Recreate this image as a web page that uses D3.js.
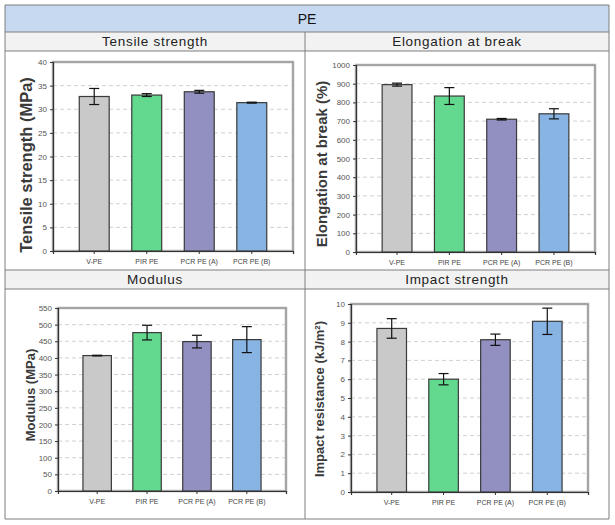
<!DOCTYPE html>
<html><head><meta charset="utf-8">
<script src="https://cdn.jsdelivr.net/npm/d3@7"></script>
<style>body{margin:0;background:#fff;font-family:"Liberation Sans",Arial,sans-serif}</style>
</head><body><svg id="c" width="615" height="525"></svg>
<script>
const categories = ["V-PE", "PIR PE", "PCR PE (A)", "PCR PE (B)"];
const barColors = ["#c9c9c9", "#63d98f", "#9190c1", "#87b4e3"];

const tensileValues = [32.7, 33.0, 33.7, 31.4];
const tensileErrors = [1.7, 0.3, 0.3, 0.1];
const tensileTicks = [0, 5, 10, 15, 20, 25, 30, 35, 40];

const elongationValues = [895, 834, 710, 739];
const elongationErrors = [8, 45, 4, 27];
const elongationTicks = [0, 100, 200, 300, 400, 500, 600, 700, 800, 900, 1000];

const modulusValues = [407, 476, 449, 455];
const modulusErrors = [1, 22, 19, 39];
const modulusTicks = [0, 50, 100, 150, 200, 250, 300, 350, 400, 450, 500, 550];

const impactValues = [8.7, 6.0, 8.1, 9.08];
const impactErrors = [0.52, 0.3, 0.3, 0.7];
const impactTicks = [0, 1, 2, 3, 4, 5, 6, 7, 8, 9, 10];

const headerTitle = "PE";
const panelTitles = ["Tensile strength", "Elongation at break", "Modulus", "Impact strength"];
const yLabels = ["Tensile strength (MPa)", "Elongation at break (%)", "Modulus (MPa)", "Impact resistance (kJ/m²)"];

const svg = d3.select("#c");

// table layout
const T = {x0: 5, x1: 609, xm: 305, y0: 5, yh: 32, yt1: 51, yr2: 270, yt2: 289, y1: 519};
svg.append("rect").attr("x", T.x0).attr("y", T.y0).attr("width", T.x1 - T.x0).attr("height", T.yh - T.y0).attr("fill", "#c6d9f0");
svg.append("rect").attr("x", T.x0).attr("y", T.yh).attr("width", T.x1 - T.x0).attr("height", T.yt1 - T.yh).attr("fill", "#f2f2f2");
svg.append("rect").attr("x", T.x0).attr("y", T.yr2).attr("width", T.x1 - T.x0).attr("height", T.yt2 - T.yr2).attr("fill", "#f2f2f2");
const lines = [
  [T.x0, T.y0, T.x1, T.y0], [T.x0, T.y1, T.x1, T.y1], [T.x0, T.y0, T.x0, T.y1], [T.x1, T.y0, T.x1, T.y1],
  [T.x0, T.yh, T.x1, T.yh], [T.x0, T.yt1, T.x1, T.yt1], [T.x0, T.yr2, T.x1, T.yr2], [T.x0, T.yt2, T.x1, T.yt2],
  [T.xm, T.yh, T.xm, T.y1]
];
svg.selectAll("line.tbl").data(lines).enter().append("line")
  .attr("x1", d => d[0]).attr("y1", d => d[1]).attr("x2", d => d[2]).attr("y2", d => d[3])
  .attr("stroke", "#7f7f7f").attr("stroke-width", 1);
svg.append("text").attr("x", (T.x0 + T.x1) / 2).attr("y", (T.y0 + T.yh) / 2 + 5).attr("text-anchor", "middle")
  .attr("font-size", 14).attr("fill", "#111").text(headerTitle);
const titlePos = [[(T.x0 + T.xm) / 2, T.yt1], [(T.xm + T.x1) / 2, T.yt1], [(T.x0 + T.xm) / 2, T.yt2], [(T.xm + T.x1) / 2, T.yt2]];
panelTitles.forEach((t, i) => {
  svg.append("text").attr("x", titlePos[i][0]).attr("y", titlePos[i][1] - 5).attr("text-anchor", "middle")
    .attr("font-size", 13.5).attr("fill", "#222").attr("letter-spacing", 0.7).text(t);
});

const panels = [
  {vals: tensileValues, errs: tensileErrors, ticks: tensileTicks, ylabel: yLabels[0], r: {x0: 53, x1: 293, y0: 62, y1: 251}, lx: 26, ly: 165, fs: 16.5},
  {vals: elongationValues, errs: elongationErrors, ticks: elongationTicks, ylabel: yLabels[1], r: {x0: 356, x1: 595, y0: 65, y1: 252}, lx: 322, ly: 164, fs: 15},
  {vals: modulusValues, errs: modulusErrors, ticks: modulusTicks, ylabel: yLabels[2], r: {x0: 58, x1: 286, y0: 308, y1: 491}, lx: 30, ly: 395, fs: 13},
  {vals: impactValues, errs: impactErrors, ticks: impactTicks, ylabel: yLabels[3], r: {x0: 351, x1: 588, y0: 304, y1: 492}, lx: 319, ly: 399, fs: 13}
];

panels.forEach((p, pi) => {
  const r = p.r;
  const g = svg.append("g");
  const x = d3.scaleBand().domain(categories).range([r.x0, r.x1]).paddingInner(0.43).paddingOuter(0.5);
  const y = d3.scaleLinear().domain([p.ticks[0], p.ticks[p.ticks.length - 1]]).range([r.y1, r.y0]);

  // gridlines
  g.selectAll("line.grid").data(p.ticks.slice(1, -1)).enter().append("line")
    .attr("x1", r.x0).attr("x2", r.x1).attr("y1", d => y(d)).attr("y2", d => y(d))
    .attr("stroke", "#d0d0d0").attr("stroke-width", 1).attr("stroke-dasharray", "4,3");

  // frame
  g.append("rect").attr("x", r.x0).attr("y", r.y0).attr("width", r.x1 - r.x0).attr("height", r.y1 - r.y0)
    .attr("fill", "none").attr("stroke", "#d8d8d8").attr("stroke-width", 3);
  g.append("rect").attr("x", r.x0).attr("y", r.y0).attr("width", r.x1 - r.x0).attr("height", r.y1 - r.y0)
    .attr("fill", "none").attr("stroke", "#8a8a8a").attr("stroke-width", 1.3);

  // bars
  g.selectAll("rect.bar").data(p.vals).enter().append("rect")
    .attr("x", (d, i) => x(categories[i])).attr("width", x.bandwidth())
    .attr("y", d => y(d)).attr("height", d => y(p.ticks[0]) - y(d))
    .attr("fill", (d, i) => barColors[i]).attr("stroke", "#3a3a3a").attr("stroke-width", 1.2);

  // error bars
  const eg = g.selectAll("g.err").data(p.vals).enter().append("g").attr("stroke", "#111").attr("stroke-width", 1.2);
  eg.append("line").attr("x1", (d, i) => x(categories[i]) + x.bandwidth() / 2).attr("x2", (d, i) => x(categories[i]) + x.bandwidth() / 2)
    .attr("y1", (d, i) => y(d + p.errs[i])).attr("y2", (d, i) => y(d - p.errs[i]));
  ["+", "-"].forEach(s => {
    eg.append("line").attr("x1", (d, i) => x(categories[i]) + x.bandwidth() / 2 - 5).attr("x2", (d, i) => x(categories[i]) + x.bandwidth() / 2 + 5)
      .attr("y1", (d, i) => y(s === "+" ? d + p.errs[i] : d - p.errs[i])).attr("y2", (d, i) => y(s === "+" ? d + p.errs[i] : d - p.errs[i]));
  });

  // y axis
  const ya = g.append("g").attr("transform", `translate(${r.x0},0)`)
    .call(d3.axisLeft(y).tickValues(p.ticks).tickSize(3).tickPadding(3).tickFormat(d3.format("d")));
  ya.select(".domain").attr("stroke", "#333").attr("stroke-width", 1.2);
  ya.selectAll(".tick line").attr("stroke", "#333");
  ya.selectAll("text").attr("font-size", 8).attr("fill", "#555").attr("font-family", "Liberation Sans, Arial, sans-serif");

  // x axis
  const xa = g.append("g").attr("transform", `translate(0,${r.y1})`)
    .call(d3.axisBottom(x).tickSize(3).tickPadding(5));
  xa.select(".domain").attr("stroke", "#333").attr("stroke-width", 1.2);
  xa.selectAll(".tick line").attr("stroke", "#333");
  xa.selectAll("text").attr("font-size", 7).attr("fill", "#444").attr("font-family", "Liberation Sans, Arial, sans-serif");

  // y label
  const lab = svg.append("text").attr("transform", `translate(${p.lx + 0.35 * p.fs},${p.ly}) rotate(-90)`)
    .attr("text-anchor", "middle").attr("font-size", p.fs).attr("font-weight", "bold").attr("fill", "#3a3a3a")
    .attr("font-family", "Liberation Sans, Arial, sans-serif");
  if (p.ylabel.indexOf("²") >= 0) {
    lab.append("tspan").text("Impact resistance (kJ/m");
    lab.append("tspan").attr("baseline-shift", "super").attr("font-size", p.fs * 0.6).text("2");
    lab.append("tspan").text(")");
  } else {
    lab.text(p.ylabel);
  }
});
</script></body></html>
